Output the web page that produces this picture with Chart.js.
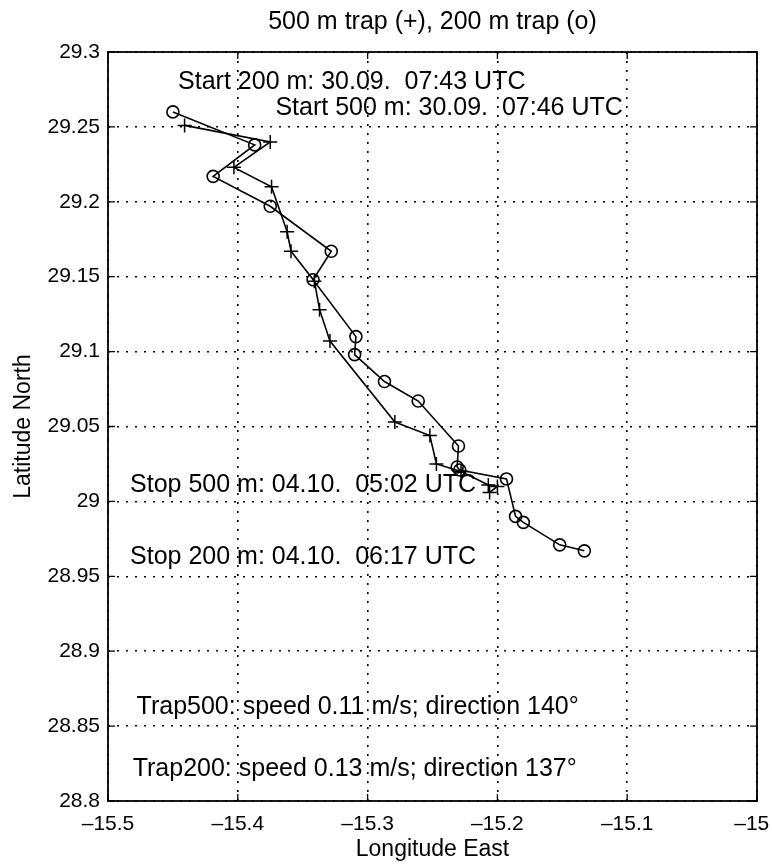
<!DOCTYPE html>
<html>
<head>
<meta charset="utf-8">
<script src="https://cdn.jsdelivr.net/npm/chart.js@4.4.1/dist/chart.umd.min.js"></script>
<style>
  body { margin: 0; background: #fff; }
  canvas { display: block; }
</style>
</head>
<body>
<canvas id="track" width="772" height="864"></canvas>
<script>
// drifter positions
var lon500 = [-15.441, -15.375, -15.403, -15.374, -15.362, -15.359, -15.341, -15.337, -15.329,
              -15.279, -15.252, -15.247, -15.228, -15.207, -15.200, -15.206];
var lat500 = [29.251, 29.240, 29.223, 29.210, 29.180, 29.167, 29.147, 29.128, 29.107,
              29.053, 29.044, 29.025, 29.020, 29.011, 29.010, 29.006];

var lon200 = [-15.450, -15.387, -15.419, -15.375, -15.328, -15.342, -15.309, -15.310, -15.287,
              -15.261, -15.230, -15.231, -15.229, -15.193, -15.186, -15.180, -15.152, -15.133];
var lat200 = [29.260, 29.238, 29.217, 29.197, 29.167, 29.148, 29.110, 29.098, 29.080,
              29.067, 29.037, 29.023, 29.021, 29.015, 28.990, 28.986, 28.971, 28.967];

var lonTicks = [-15.5, -15.4, -15.3, -15.2, -15.1, -15];
var latTicks = [28.8, 28.85, 28.9, 28.95, 29, 29.05, 29.1, 29.15, 29.2, 29.25, 29.3];

var noteText = [
  'Start 200 m: 30.09.  07:43 UTC',
  'Start 500 m: 30.09.  07:46 UTC',
  'Stop 500 m: 04.10.  05:02 UTC',
  'Stop 200 m: 04.10.  06:17 UTC',
  'Trap500: speed 0.11 m/s; direction 140\u00b0',
  'Trap200: speed 0.13 m/s; direction 137\u00b0'
];
// where each note starts (lon) and its middle line (lat)
var noteLon = [-15.446, -15.371, -15.483, -15.483, -15.478, -15.481];
var noteLat = [29.280, 29.2626, 29.011, 28.963, 28.863, 28.821];

var FONT = '"Liberation Sans", Arial, Helvetica, sans-serif';

function pts(xs, ys) {
  return xs.map(function (x, i) { return { x: x, y: ys[i] }; });
}

function fmt(v) {
  var s = String(Math.round(v * 100) / 100);
  return s.replace('-', '\u2013');
}

var frame = {
  id: 'frame',
  afterDraw: function (chart) {
    var ctx = chart.ctx, a = chart.chartArea;
    var sx = chart.scales.x, sy = chart.scales.y;
    ctx.save();
    ctx.strokeStyle = '#000';
    ctx.lineWidth = 1.8;
    ctx.strokeRect(a.left, a.top, a.right - a.left, a.bottom - a.top);

    // inward tick marks on all four sides
    ctx.lineWidth = 1.3;
    ctx.beginPath();
    sx.ticks.forEach(function (t) {
      var px = sx.getPixelForValue(t.value);
      ctx.moveTo(px, a.bottom); ctx.lineTo(px, a.bottom - 7);
      ctx.moveTo(px, a.top); ctx.lineTo(px, a.top + 7);
    });
    sy.ticks.forEach(function (t) {
      var py = sy.getPixelForValue(t.value);
      ctx.moveTo(a.left, py); ctx.lineTo(a.left + 7, py);
      ctx.moveTo(a.right, py); ctx.lineTo(a.right - 7, py);
    });
    ctx.stroke();

    ctx.fillStyle = '#000';
    ctx.textBaseline = 'middle';
    ctx.textAlign = 'center';
    ctx.font = '25px ' + FONT;
    ctx.fillText('500 m trap (+), 200 m trap (o)', (a.left + a.right) / 2, 22);

    ctx.textAlign = 'left';
    ctx.font = '25px ' + FONT;
    noteText.forEach(function (txt, i) {
      ctx.fillText(txt, sx.getPixelForValue(noteLon[i]), sy.getPixelForValue(noteLat[i]));
    });
    ctx.restore();
  }
};

new Chart(document.getElementById('track').getContext('2d'), {
  type: 'scatter',
  data: {
    datasets: [{
      label: '500 m trap',
      data: pts(lon500, lat500),
      showLine: true,
      borderColor: '#000',
      borderWidth: 1.6,
      pointStyle: 'cross',
      pointRadius: 7,
      pointBorderWidth: 1.5,
      pointBorderColor: '#000',
      pointBackgroundColor: '#000'
    }, {
      label: '200 m trap',
      data: pts(lon200, lat200),
      showLine: true,
      borderColor: '#000',
      borderWidth: 1.6,
      pointStyle: 'circle',
      pointRadius: 6,
      pointBorderWidth: 1.6,
      pointBorderColor: '#000',
      pointBackgroundColor: 'rgba(0,0,0,0)'
    }]
  },
  options: {
    responsive: false,
    animation: false,
    devicePixelRatio: 1,
    layout: { padding: { left: 0, right: 15, top: 52, bottom: 0 } },
    plugins: {
      legend: { display: false },
      tooltip: { enabled: false }
    },
    scales: {
      x: {
        type: 'linear',
        min: -15.5,
        max: -15,
        afterBuildTicks: function (s) { s.ticks = lonTicks.map(function (v) { return { value: v }; }); },
        afterFit: function (s) { s.height = 63; s.paddingLeft = 0; s.paddingRight = 0; },
        grid: { color: '#000', lineWidth: 1.6, drawTicks: false },
        border: { display: false, dash: [2, 7] },
        ticks: {
          color: '#000',
          padding: 11,
          maxRotation: 0,
          font: { family: FONT, size: 21 },
          // last label is nudged left so it stays on the canvas
          callback: function (v, i, all) { return fmt(v) + (i === all.length - 1 ? '\u2002' : ''); }
        },
        title: {
          display: true,
          text: 'Longitude East',
          color: '#000',
          font: { family: FONT, size: 23 },
          padding: { top: 0, bottom: 1 }
        }
      },
      y: {
        type: 'linear',
        min: 28.8,
        max: 29.3,
        afterBuildTicks: function (s) { s.ticks = latTicks.map(function (v) { return { value: v }; }); },
        afterFit: function (s) { s.width = 108; s.paddingTop = 0; s.paddingBottom = 0; },
        grid: { color: '#000', lineWidth: 1.6, drawTicks: false },
        border: { display: false, dash: [2, 7] },
        ticks: {
          color: '#000',
          padding: 8,
          font: { family: FONT, size: 21 },
          callback: function (v) { return fmt(v); }
        },
        title: {
          display: true,
          text: 'Latitude North',
          color: '#000',
          font: { family: FONT, size: 23 },
          padding: { top: 10, bottom: 0 }
        }
      }
    }
  },
  plugins: [frame]
});
</script>
</body>
</html>
